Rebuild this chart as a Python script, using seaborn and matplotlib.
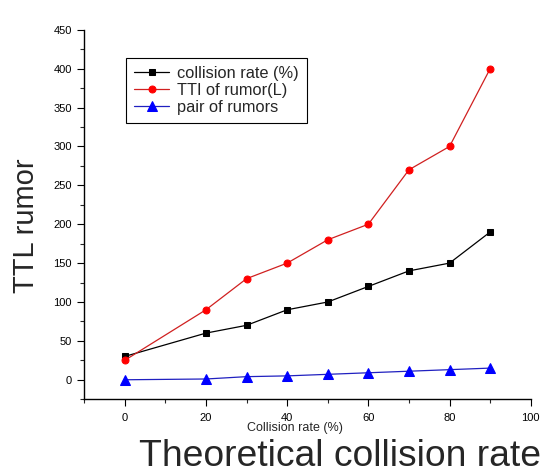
import matplotlib
matplotlib.use("Agg")
import matplotlib.pyplot as plt
from matplotlib.ticker import MultipleLocator
import pandas as pd
import seaborn as sns

# --- data ---
collision = [0, 20, 30, 40, 50, 60, 70, 80, 90]
collision_rate = [30, 60, 70, 90, 100, 120, 140, 150, 190]
tti_rumor = [25, 90, 130, 150, 180, 200, 270, 300, 400]
pair_rumors = [0, 1, 4, 5, 7, 9, 11, 13, 15]
series_names = ["collision rate (%)", "TTI of rumor(L)", "pair of rumors"]

df = pd.concat([
    pd.DataFrame({"x": collision, "y": vals, "series": name})
    for name, vals in zip(series_names, [collision_rate, tti_rumor, pair_rumors])
])

sns.set_theme(style="ticks")
plt.rcParams["font.family"] = ["Liberation Sans", "DejaVu Sans"]

fig = plt.figure(figsize=(5.5, 4.73), dpi=100)
ax = fig.add_axes([0.153, 0.156, 0.812, 0.781])

line_colors = {series_names[0]: "#000000", series_names[1]: "#d02020", series_names[2]: "#2020c0"}
marker_colors = ["#000000", "#ff0000", "#0000ff"]
markers = {series_names[0]: "s", series_names[1]: "o", series_names[2]: "^"}
sizes = [4.5, 5, 6.5]

sns.lineplot(data=df, x="x", y="y", hue="series", style="series",
             palette=line_colors, markers=markers, dashes=False,
             linewidth=0.9, markersize=6, legend=False, ax=ax)

# markers in full colour on top of the thin lines
for line, mc, ms in zip(ax.get_lines(), marker_colors, sizes):
    line.set_markerfacecolor(mc)
    line.set_markeredgecolor(mc)
    line.set_markersize(ms)

handles = ax.get_lines()[:3]
leg = ax.legend(handles, series_names, loc="upper left",
                bbox_to_anchor=(0.094, 0.925), fontsize=11.8, frameon=True,
                fancybox=False, edgecolor="black", framealpha=1,
                handlelength=2.1, borderpad=0.5, labelspacing=0.12,
                handletextpad=0.5, borderaxespad=0)
leg.get_frame().set_linewidth(0.8)

ax.set_xlim(-10, 100)
ax.set_ylim(-25, 450)
ax.xaxis.set_major_locator(MultipleLocator(20))
ax.xaxis.set_minor_locator(MultipleLocator(10))
ax.yaxis.set_major_locator(MultipleLocator(50))
ax.yaxis.set_minor_locator(MultipleLocator(25))
ax.tick_params(which="major", direction="out", length=5, width=0.8, labelsize=8, colors="black")
ax.tick_params(which="minor", direction="out", length=3, width=0.8)
ax.tick_params(axis="x", pad=5)
ax.tick_params(axis="y", pad=4)

sns.despine(ax=ax)
for s in ["left", "bottom"]:
    ax.spines[s].set_linewidth(1.0)
    ax.spines[s].set_color("black")

ax.set_xlabel("Collision rate (%)", fontsize=9)
ax.xaxis.set_label_coords(0.472, -0.062)
ax.set_ylabel("")

fig.text(0.047, 0.522, "TTL rumor", rotation=90, fontsize=21, ha="center", va="center")
fig.text(0.619, 0.0148, "Theoretical collision rate", fontsize=26.8, ha="center", va="baseline")

fig.savefig("out.png", dpi=100, facecolor="white")
